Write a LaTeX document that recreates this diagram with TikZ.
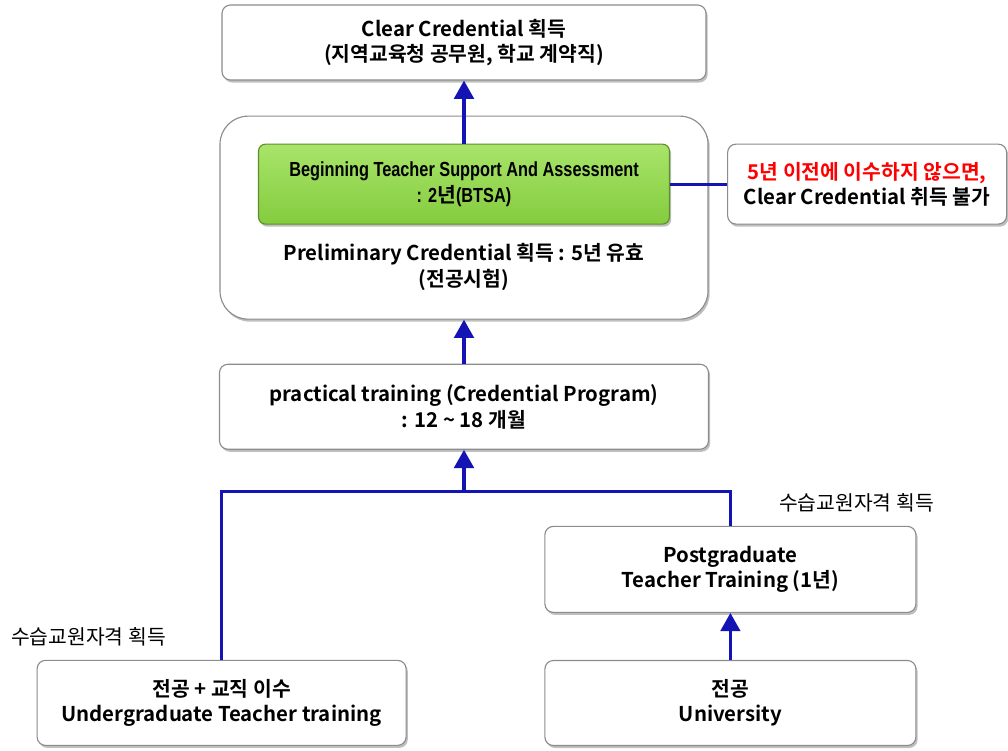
\documentclass[tikz,border=0pt]{standalone}
\usepackage{fontspec}
\setmainfont{Noto Sans CJK KR}[BoldFont={Noto Sans CJK KR Bold}]
\newfontfamily\narrowfont{Liberation Sans}[FakeStretch=0.8]
\usetikzlibrary{positioning,arrows.meta,shadows,calc}
\definecolor{flowblue}{HTML}{1414B4}
\definecolor{edge}{HTML}{8C8C8C}
\definecolor{btsatop}{HTML}{A8E46A}
\definecolor{btsabottom}{HTML}{84CC3E}
\definecolor{alert}{HTML}{FF0000}
\tikzset{
    stage/.style={rectangle, draw=edge, line width=0.8pt, rounded corners=6pt, fill=white, align=center, font=\fontsize{14.5}{18}\selectfont\bfseries, drop shadow={opacity=0.5, shadow xshift=1.2pt, shadow yshift=-1.8pt}},
    holder/.style={stage, rounded corners=20pt},
    support/.style={rectangle, draw=btsabottom!70!black, line width=0.8pt, rounded corners=5pt, top color=btsatop, bottom color=btsabottom, align=center, font=\fontsize{14.5}{18}\selectfont\narrowfont\bfseries, drop shadow={opacity=0.5, shadow xshift=1.2pt, shadow yshift=-1.8pt}},
    caption/.style={align=center, font=\fontsize{14.5}{18}\selectfont\bfseries},
    tag/.style={font=\fontsize{14.5}{17}\selectfont, inner sep=1pt},
    arrow/.style={-{Triangle[width=14pt,length=13pt]}, line width=2.2pt, color=flowblue},
    link/.style={line width=2.2pt, color=flowblue}
}
\begin{document}
\begin{tikzpicture}

\useasboundingbox (-11.6,1.0625) rectangle (13.6,-17.6875);

% ── Clear Credential ──
\node[stage, minimum width=12.1cm, minimum height=1.875cm] (clear) {Clear Credential 획득\\(지역교육청 공무원, 학교 계약직)};

% ── Preliminary + BTSA ──
\node[holder, minimum width=12.2cm, minimum height=5.075cm, below=0.875cm of clear] (prelim) {};
\node[support, minimum width=10.275cm, minimum height=2cm, below=0.7cm of prelim.north] (btsa) {Beginning Teacher Support And Assessment\\: 2{\rmfamily 년}(BTSA)};
\node[caption, below=0.35cm of btsa] (prelimtext) {Preliminary Credential 획득 : 5년 유효\\(전공시험)};
\node[stage, minimum width=6.975cm, minimum height=2cm, right=1.425cm of btsa] (warn) {{\color{alert}5년 이전에 이수하지 않으면,}\\Clear Credential 취득 불가};

% ── practical training ──
\node[stage, minimum width=12.225cm, minimum height=2.125cm, below=1.1cm of prelim] (practical) {practical training (Credential Program)\\: 12 \textasciitilde\ 18 개월};
\coordinate[below=1.05cm of practical.south] (join);

% ── Postgraduate / University ──
\node[stage, minimum width=9.275cm, minimum height=2.15cm, below=1.9cm of practical.south, anchor=north, xshift=6.66cm] (postgrad) {Postgraduate\\Teacher Training (1년)};
\node[stage, minimum width=9.275cm, minimum height=2.125cm, below=1.175cm of postgrad] (university) {전공\\University};

% ── Undergraduate ──
\node[stage, minimum width=9.225cm, minimum height=2.125cm, below=5.25cm of practical.south, anchor=north, xshift=-6.06cm] (undergrad) {전공 + 교직 이수\\Undergraduate Teacher training};

% ── 수습교원자격 ──
\node[tag, above=0.3cm of undergrad.north west, anchor=south west, xshift=-0.675cm] (tagleft) {수습교원자격 획득};
\node[tag, above=0.3cm of postgrad.north east, anchor=south east, xshift=0.475cm] (tagright) {수습교원자격 획득};

% ── Connectors ──
\draw[link] (undergrad.north) |- (join) -| (postgrad.north);
\draw[arrow] (join) -- (practical.south);
\draw[arrow] (university) -- (postgrad);
\draw[arrow] (practical) -- (prelim);
\draw[arrow] (btsa) -- (clear);
\draw[link] (btsa) -- (warn);

\end{tikzpicture}
\end{document}
